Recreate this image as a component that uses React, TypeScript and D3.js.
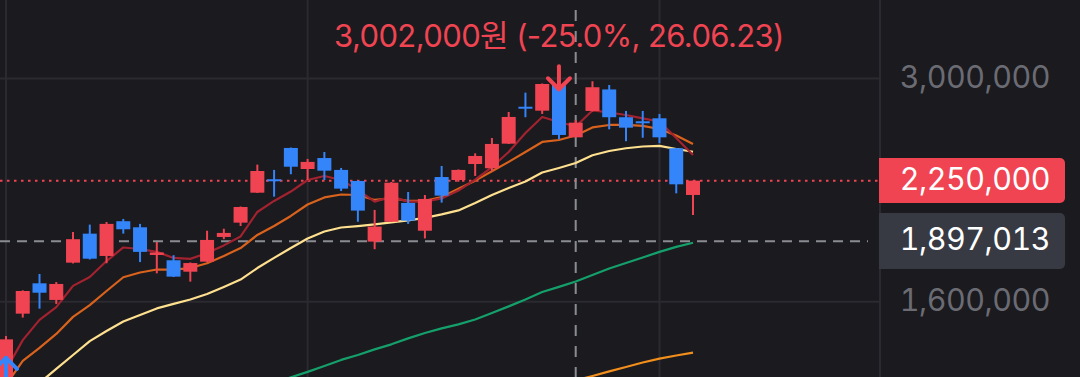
import React from "react";
import * as d3 from "d3";

const W = 1080;
const H = 377;
const PLOT_RIGHT = 880;

// Daily candles (KRW)
const opens = [1241000, 1547000, 1685000, 1608000, 1786000, 1938000, 1820000, 2007000, 1973000, 1825000, 1798000, 1741000, 1791000, 1920000, 1999000, 2175000, 2257000, 2467000, 2325000, 2398000, 2319000, 2248000, 1895000, 2004000, 2113000, 1954000, 2273000, 2254000, 2358000, 2330000, 2497000, 2769000, 2740000, 2946000, 2542000, 2738000, 2909000, 2690000, 2657000, 2682000, 2465000, 2161000];
const highs = [1453000, 1652000, 1730000, 1691000, 1947000, 1988000, 2003000, 2020000, 1992000, 1893000, 1824000, 1787000, 1954000, 1965000, 2092000, 2354000, 2319000, 2470000, 2392000, 2439000, 2332000, 2251000, 2072000, 2242000, 2179000, 2161000, 2345000, 2322000, 2430000, 2537000, 2730000, 2883000, 2958000, 3002000, 2669000, 2977000, 2946000, 2738000, 2738000, 2715000, 2467000, 2250000];
const lows = [1213000, 1530000, 1569000, 1590000, 1782000, 1802000, 1783000, 1938000, 1789000, 1733000, 1715000, 1693000, 1788000, 1908000, 1980000, 2173000, 2151000, 2291000, 2254000, 2254000, 2185000, 2004000, 1855000, 2003000, 1992000, 1912000, 2115000, 2243000, 2280000, 2308000, 2495000, 2690000, 2715000, 2528000, 2541000, 2734000, 2600000, 2514000, 2539000, 2500000, 2171000, 2043000];
const closes = [1439000, 1649000, 1641000, 1682000, 1908000, 1806000, 1992000, 1962000, 1841000, 1838000, 1717000, 1784000, 1904000, 1942000, 2089000, 2312000, 2248000, 2340000, 2372000, 2314000, 2200000, 2068000, 1977000, 2237000, 2010000, 2137000, 2157000, 2319000, 2412000, 2495000, 2692000, 2757000, 2954000, 2559000, 2649000, 2927000, 2690000, 2612000, 2647000, 2542000, 2227000, 2250000];

// Moving averages (null = not on screen)
const ma5 = [1320000, 1436000, 1520000, 1576000, 1673000, 1715000, 1794000, 1864000, 1856000, 1841000, 1810000, 1805000, 1835000, 1875000, 1923000, 2060000, 2125000, 2182000, 2254000, 2280000, 2254000, 2192000, 2121000, 2151000, 2121000, 2121000, 2140000, 2188000, 2257000, 2338000, 2439000, 2573000, 2692000, 2654000, 2621000, 2742000, 2726000, 2707000, 2681000, 2658000, 2537000, 2419000];
const ma10 = [1266000, 1354000, 1405000, 1461000, 1533000, 1585000, 1649000, 1714000, 1737000, 1752000, 1751000, 1759000, 1783000, 1820000, 1861000, 1931000, 1980000, 2037000, 2104000, 2146000, 2164000, 2161000, 2131000, 2141000, 2125000, 2125000, 2149000, 2199000, 2250000, 2310000, 2372000, 2439000, 2509000, 2523000, 2555000, 2614000, 2632000, 2632000, 2625000, 2602000, 2555000, 2495000];
const ma20 = [1176000, 1224000, 1273000, 1324000, 1377000, 1432000, 1473000, 1513000, 1541000, 1570000, 1590000, 1610000, 1635000, 1668000, 1703000, 1759000, 1810000, 1861000, 1912000, 1950000, 1972000, 1980000, 1989000, 2001000, 2012000, 2026000, 2046000, 2069000, 2113000, 2161000, 2204000, 2245000, 2302000, 2332000, 2365000, 2417000, 2446000, 2465000, 2477000, 2481000, 2460000, 2441000];
const ma60 = [null, null, null, null, null, null, null, null, null, null, null, null, null, null, null, null, 1273000, 1293000, 1313000, 1335000, 1358000, 1377000, 1399000, 1419000, 1443000, 1465000, 1484000, 1501000, 1522000, 1550000, 1579000, 1610000, 1644000, 1668000, 1694000, 1725000, 1757000, 1784000, 1812000, 1841000, 1867000, 1889000];
const ma120 = [null, null, null, null, null, null, null, null, null, null, null, null, null, null, null, null, null, null, null, null, null, null, null, null, null, null, null, null, null, null, null, null, null, null, 1282000, 1298000, 1315000, 1331000, 1348000, 1363000, 1375000, 1386000];

const priceTicks = [3000000, 1600000];
const monthStartIdx = [0, 18, 39];
const lastPrice = 2250000;
const crossPrice = 1897013;
const crossIdx = 34;
const peakIdx = 33;
const peakPrice = 3002000;
const peakLabel = "3,002,000원 (-25.0%, 26.06.23)";
const buyIdx = 0;
const buyPrice = 1366000;

const RED = "#f04452";
const BLUE = "#3485fa";
const BG = "#1a1a1f";
const GRID = "#2a2a30";
const FONT = "Inter, 'Noto Sans CJK KR', sans-serif";

const maDefs: { data: (number | null)[]; color: string }[] = [
  { data: ma120, color: "#f28e1c" },
  { data: ma60, color: "#15a06b" },
  { data: ma20, color: "#ffe08f" },
  { data: ma10, color: "#d9621c" },
  { data: ma5, color: "#a3222f" },
];

export default function App() {
  const x = d3.scaleLinear().domain([0, closes.length - 1]).range([6, 693]);
  const y = d3.scaleLog().domain([1600000, 3000000]).range([301.7, 78.5]);
  const fmt = d3.format(",");
  const bodyW = 14;

  const line = d3
    .line<number | null>()
    .defined((d) => d != null)
    .x((_, i) => x(i))
    .y((d) => y(d as number));

  const peakX = x(peakIdx);
  const peakTip = y(peakPrice) + 11;
  const buyX = x(buyIdx);
  const buyTip = y(buyPrice);
  const numStyle = { fontVariantNumeric: "tabular-nums" } as React.CSSProperties;
  const labelSize = 30.5;
  const labelSpacing = -0.5;
  const labelX = 1050;

  return (
    <svg
      width={W}
      height={H}
      style={{ position: "absolute", left: 0, top: 0, display: "block" }}
      fontFamily={FONT}
    >
      <defs>
        <clipPath id="plot">
          <rect x={0} y={0} width={PLOT_RIGHT} height={H} />
        </clipPath>
      </defs>
      <rect x={0} y={0} width={W} height={H} fill={BG} />

      {/* grid */}
      {priceTicks.map((t) => (
        <line key={t} x1={0} x2={PLOT_RIGHT} y1={y(t)} y2={y(t)} stroke={GRID} strokeWidth={2} />
      ))}
      {monthStartIdx.map((i) => (
        <line key={i} x1={x(i)} x2={x(i)} y1={0} y2={H} stroke={GRID} strokeWidth={2} />
      ))}
      <line x1={PLOT_RIGHT} x2={PLOT_RIGHT} y1={0} y2={H} stroke={GRID} strokeWidth={2} />

      <g clipPath="url(#plot)">
        {/* last price dotted line */}
        <line
          x1={0}
          x2={PLOT_RIGHT - 2}
          y1={y(lastPrice)}
          y2={y(lastPrice)}
          stroke={RED}
          strokeWidth={2}
          strokeDasharray="2.5 4.5"
        />
        {/* crosshair */}
        <line
          x1={0}
          x2={868}
          y1={y(crossPrice)}
          y2={y(crossPrice)}
          stroke="#8b8b92"
          strokeWidth={2}
          strokeDasharray="10 7"
        />
        <line
          x1={x(crossIdx)}
          x2={x(crossIdx)}
          y1={10}
          y2={H}
          stroke="#8b8b92"
          strokeWidth={2}
          strokeDasharray="11 10"
        />

        {/* moving averages */}
        {maDefs.map((m, k) => (
          <path key={k} d={line(m.data) || ""} fill="none" stroke={m.color} strokeWidth={2.2} strokeLinejoin="round" />
        ))}

        {/* candles */}
        {closes.map((c, i) => {
          const o = opens[i];
          const up = c >= o;
          const col = up ? RED : BLUE;
          const yTop = y(Math.max(o, c));
          const yBot = y(Math.min(o, c));
          const h = Math.max(2, yBot - yTop);
          const cx = x(i);
          return (
            <g key={i}>
              <line x1={cx} x2={cx} y1={y(highs[i])} y2={y(lows[i])} stroke={col} strokeWidth={2} />
              <rect x={cx - bodyW / 2} y={h === 2 ? (yTop + yBot) / 2 - 1 : yTop} width={bodyW} height={h} fill={col} />
            </g>
          );
        })}

        {/* sell marker */}
        <g stroke={RED} strokeWidth={4} fill="none" strokeLinecap="round" strokeLinejoin="round">
          <line x1={peakX} x2={peakX} y1={peakTip - 23} y2={peakTip} />
          <polyline points={`${peakX - 11},${peakTip - 11} ${peakX},${peakTip} ${peakX + 11},${peakTip - 11}`} />
        </g>
        {/* buy marker */}
        <g stroke={BLUE} strokeWidth={4} fill="none" strokeLinecap="round" strokeLinejoin="round">
          <line x1={buyX} x2={buyX} y1={buyTip} y2={buyTip + 25} />
          <polyline points={`${buyX - 11},${buyTip + 11} ${buyX},${buyTip} ${buyX + 11},${buyTip + 11}`} />
        </g>
      </g>

      {/* peak annotation */}
      <text x={peakX} y={47} textAnchor="middle" fill={RED} fontSize={31} letterSpacing={-0.6}>
        {peakLabel}
      </text>

      {/* axis labels */}
      {priceTicks.map((t) => (
        <text key={t} x={labelX} y={y(t) + 9} textAnchor="end" fill="#6b6b73" fontSize={labelSize} letterSpacing={labelSpacing} style={numStyle}>
          {fmt(t)}
        </text>
      ))}

      {/* last price tag */}
      <path
        d={`M${PLOT_RIGHT - 1},158 H1060 a5,5 0 0 1 5,5 V198 a5,5 0 0 1 -5,5 H${PLOT_RIGHT - 1} Z`}
        fill={RED}
      />
      <text x={labelX} y={y(lastPrice) + 9} textAnchor="end" fill="#ffffff" fontSize={labelSize} letterSpacing={labelSpacing} style={numStyle}>
        {fmt(lastPrice)}
      </text>

      {/* crosshair tag */}
      <path
        d={`M${PLOT_RIGHT - 1},213 H1060 a5,5 0 0 1 5,5 V264 a5,5 0 0 1 -5,5 H${PLOT_RIGHT - 1} Z`}
        fill="#373a43"
      />
      <text x={labelX} y={y(crossPrice) + 9} textAnchor="end" fill="#ffffff" fontSize={labelSize} letterSpacing={labelSpacing} style={numStyle}>
        {fmt(crossPrice)}
      </text>
    </svg>
  );
}
